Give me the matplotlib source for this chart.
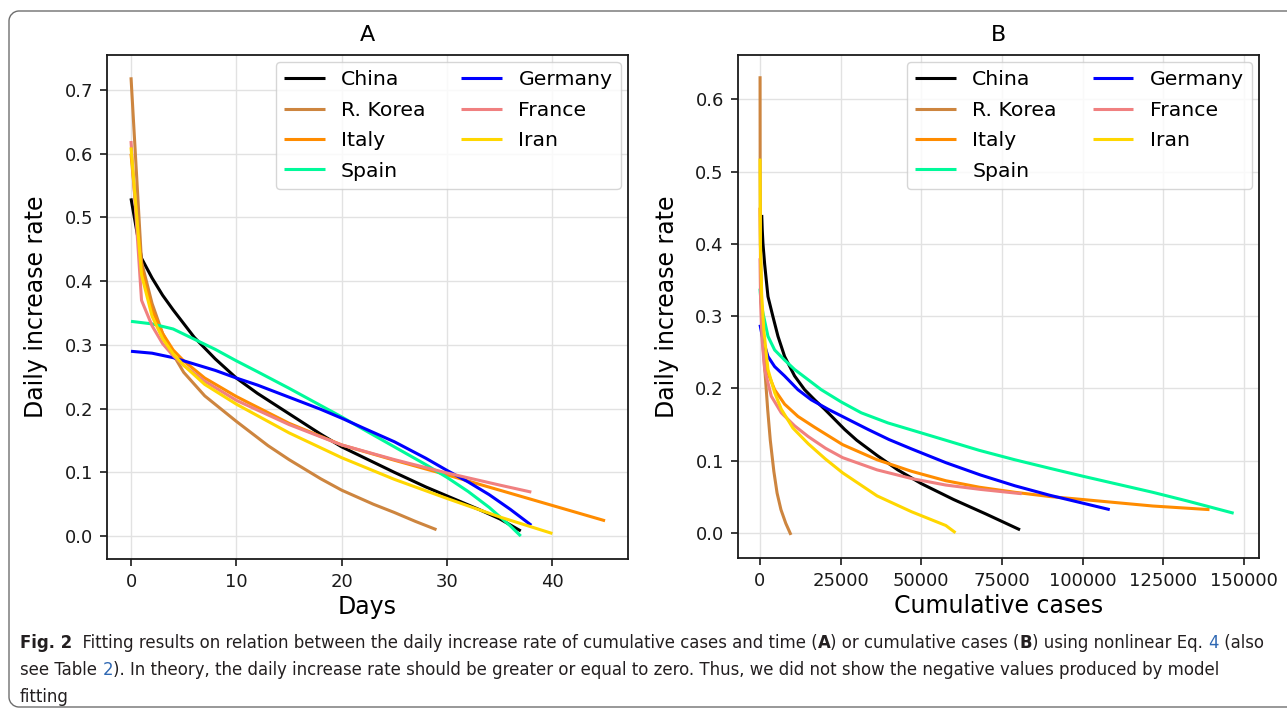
import matplotlib
matplotlib.use('Agg')
import matplotlib.pyplot as plt
import matplotlib.font_manager as fm
from matplotlib.font_manager import FontProperties
from matplotlib.patches import PathPatch
from matplotlib.path import Path
from matplotlib.transforms import IdentityTransform

# ---------------- data ----------------
countries = ['China', 'R. Korea', 'Italy', 'Spain', 'Germany', 'France', 'Iran']
colors = ['black', '#cd853f', 'darkorange', 'mediumspringgreen', 'blue', 'lightcoral', 'gold']

# Panel A: daily increase rate vs days
china_days = [0, 1, 2, 3, 4, 6, 8, 10, 12, 15, 18, 20, 22, 25, 28, 30, 33, 35, 37]
china_rate_a = [0.53, 0.436, 0.405, 0.378, 0.355, 0.312, 0.278, 0.248, 0.224, 0.192, 0.160,
                0.140, 0.124, 0.100, 0.077, 0.063, 0.042, 0.027, 0.008]
korea_days = [0, 1, 2, 3, 4, 5, 7, 10, 13, 15, 18, 20, 23, 25, 27, 29]
korea_rate_a = [0.72, 0.43, 0.365, 0.318, 0.285, 0.257, 0.220, 0.180, 0.142, 0.120, 0.090,
                0.072, 0.050, 0.037, 0.023, 0.010]
italy_days = [0, 1, 2, 3, 4, 5, 7, 10, 15, 20, 25, 30, 35, 40, 45]
italy_rate_a = [0.60, 0.42, 0.355, 0.318, 0.292, 0.275, 0.248, 0.219, 0.177, 0.143, 0.119,
                0.096, 0.072, 0.048, 0.024]
spain_days = [0, 2, 4, 6, 8, 10, 12, 15, 18, 20, 22, 25, 28, 30, 32, 34, 36, 37]
spain_rate_a = [0.337, 0.333, 0.325, 0.309, 0.293, 0.275, 0.258, 0.232, 0.205, 0.187, 0.168,
                0.140, 0.112, 0.092, 0.070, 0.045, 0.016, 0.0]
germany_days = [0, 2, 4, 6, 8, 10, 12, 15, 18, 20, 22, 25, 28, 30, 32, 34, 36, 38]
germany_rate_a = [0.290, 0.287, 0.280, 0.270, 0.260, 0.248, 0.237, 0.218, 0.199, 0.185, 0.170,
                  0.148, 0.122, 0.103, 0.085, 0.065, 0.042, 0.017]
france_days = [0, 1, 2, 3, 4, 5, 7, 10, 15, 20, 25, 30, 35, 38]
france_rate_a = [0.62, 0.37, 0.33, 0.302, 0.283, 0.268, 0.243, 0.213, 0.175, 0.143, 0.120,
                 0.099, 0.080, 0.069]
iran_days = [0, 1, 2, 3, 4, 5, 7, 10, 15, 20, 25, 30, 35, 40]
iran_rate_a = [0.61, 0.41, 0.345, 0.310, 0.286, 0.268, 0.238, 0.207, 0.162, 0.123, 0.089,
               0.059, 0.030, 0.004]

# Panel B: daily increase rate vs cumulative cases
china_cases = [550, 700, 930, 1450, 2480, 4030, 5580, 7640, 10740, 13840, 16940, 20040, 23140,
               26240, 30000, 36300, 42700, 50000, 60000, 70000, 80600]
china_rate_b = [0.44, 0.42, 0.40, 0.372, 0.327, 0.299, 0.272, 0.244, 0.217, 0.198, 0.184, 0.171,
                0.157, 0.143, 0.128, 0.107, 0.087, 0.068, 0.046, 0.026, 0.004]
korea_cases = [30, 60, 150, 400, 850, 1600, 2400, 3200, 4300, 5300, 6500, 8000, 9600]
korea_rate_b = [0.632, 0.50, 0.40, 0.32, 0.265, 0.22, 0.17, 0.128, 0.085, 0.055, 0.032,
                0.013, -0.003]
italy_cases = [20, 200, 600, 1200, 2480, 4550, 7640, 11780, 16940, 25600, 36300, 47000, 57600,
               68000, 79000, 90000, 100000, 121700, 139300]
italy_rate_b = [0.45, 0.36, 0.30, 0.26, 0.221, 0.198, 0.178, 0.161, 0.146, 0.122, 0.101, 0.085,
                0.072, 0.063, 0.056, 0.050, 0.046, 0.037, 0.032]
spain_cases = [5, 300, 930, 2480, 4550, 7640, 10740, 14880, 19000, 25200, 31400, 39670, 47900,
               57600, 68000, 79000, 90000, 100300, 111000, 121700, 132400, 146800]
spain_rate_b = [0.338, 0.32, 0.304, 0.272, 0.253, 0.239, 0.226, 0.212, 0.198, 0.181, 0.166,
                0.152, 0.141, 0.128, 0.114, 0.101, 0.089, 0.078, 0.067, 0.056, 0.044, 0.027]
germany_cases = [15, 930, 2480, 4550, 7640, 11780, 15900, 21100, 27300, 33500, 40000, 47000,
                 57600, 68300, 79000, 89700, 100000, 108400]
germany_rate_b = [0.288, 0.267, 0.244, 0.230, 0.217, 0.198, 0.184, 0.171, 0.157, 0.143, 0.129,
                  0.116, 0.097, 0.080, 0.065, 0.052, 0.041, 0.032]
france_cases = [10, 200, 600, 1450, 3510, 6610, 10740, 15000, 20300, 25600, 36300, 47000,
                57600, 68300, 81100]
france_rate_b = [0.38, 0.32, 0.27, 0.226, 0.189, 0.166, 0.148, 0.133, 0.117, 0.104, 0.087,
                 0.075, 0.066, 0.060, 0.054]
iran_cases = [20, 150, 530, 1200, 2480, 4550, 6610, 10200, 15000, 20300, 25600, 36300, 47000,
              57600, 60600]
iran_rate_b = [0.518, 0.40, 0.33, 0.28, 0.226, 0.194, 0.171, 0.145, 0.123, 0.102, 0.083, 0.051,
               0.029, 0.010, 0.0]

series_a = [(china_days, china_rate_a), (korea_days, korea_rate_a), (italy_days, italy_rate_a),
            (spain_days, spain_rate_a), (germany_days, germany_rate_a),
            (france_days, france_rate_a), (iran_days, iran_rate_a)]
series_b = [(china_cases, china_rate_b), (korea_cases, korea_rate_b), (italy_cases, italy_rate_b),
            (spain_cases, spain_rate_b), (germany_cases, germany_rate_b),
            (france_cases, france_rate_b), (iran_cases, iran_rate_b)]

xticks_a = [0, 10, 20, 30, 40]
xticks_b = [0, 25000, 50000, 75000, 100000, 125000, 150000]
yticks_a = [0.0, 0.1, 0.2, 0.3, 0.4, 0.5, 0.6, 0.7]
yticks_b = [0.0, 0.1, 0.2, 0.3, 0.4, 0.5, 0.6]

caption_lines = [
    [("Fig. 2", 'b', None), ("  Fitting results on relation between the daily increase rate of cumulative cases and time (", 'r', None),
     ("A", 'b', None), (") or cumulative cases (", 'r', None), ("B", 'b', None),
     (") using nonlinear Eq. ", 'r', None), ("4", 'r', 'link'), (" (also", 'r', None)],
    [("see Table ", 'r', None), ("2", 'r', 'link'),
     ("). In theory, the daily increase rate should be greater or equal to zero. Thus, we did not show the negative values produced by model", 'r', None)],
    [("fitting", 'r', None)],
]

# ---------------- figure ----------------
W, H = 1287, 713
fig = plt.figure(figsize=(W / 100, H / 100), dpi=100)
fig.patch.set_facecolor('white')

axA = fig.add_axes([107.3 / W, 1 - 559 / H, 520.4 / W, 504 / H])
axB = fig.add_axes([737.7 / W, 1 - 558.3 / H, 521.3 / W, 503.3 / H])


def style(ax):
    ax.grid(True, color='#e2e2e2', linewidth=1.0)
    ax.set_axisbelow(True)
    for s in ax.spines.values():
        s.set_linewidth(1.3)
        s.set_color('#1a1a1a')
    ax.tick_params(labelsize=13, length=5, width=1.2, pad=5, colors='#1a1a1a')


for ax, series in ((axA, series_a), (axB, series_b)):
    for name, col, (xs, ys) in zip(countries, colors, series):
        ax.plot(xs, ys, color=col, lw=2.2, label=name, solid_capstyle='butt',
                solid_joinstyle='round')
    style(ax)
    ax.legend(ncol=2, loc='upper right', fontsize=14.7, handlelength=2.0,
              columnspacing=1.75, handletextpad=0.8, labelspacing=0.56,
              borderaxespad=0.35)

axA.set_xlim(-2.25, 47.15)
axA.set_ylim(-0.036, 0.755)
axA.set_xticks(xticks_a)
axA.set_yticks(yticks_a)
axA.set_xlabel('Days', fontsize=17, labelpad=3)
axA.set_ylabel('Daily increase rate', fontsize=17, labelpad=12)
axA.set_title('A', fontsize=16, pad=10)

axB.set_xlim(-6900, 154650)
axB.set_ylim(-0.0354, 0.6614)
axB.set_xticks(xticks_b)
axB.set_yticks(yticks_b)
axB.set_xlabel('Cumulative cases', fontsize=17, labelpad=3)
axB.set_ylabel('Daily increase rate', fontsize=17, labelpad=12)
axB.set_title('B', fontsize=16, pad=10)

# outer frame: open on the right (it continues beyond the picture), rounded left corners
L, T, B_, R, r = 9.0, H - 11.0, H - 707.0, W + 50.0, 10.0
k = 0.5523 * r
verts = [(R, T), (L + r, T), (L + r - k, T), (L, T - r + k), (L, T - r),
         (L, B_ + r), (L, B_ + r - k), (L + r - k, B_), (L + r, B_), (R, B_)]
codes = [Path.MOVETO, Path.LINETO, Path.CURVE4, Path.CURVE4, Path.CURVE4,
         Path.LINETO, Path.CURVE4, Path.CURVE4, Path.CURVE4, Path.LINETO]
frame = PathPatch(Path(verts, codes), transform=IdentityTransform(), fill=False,
                  ec='#6e6e6e', lw=1.0, clip_on=False)
fig.add_artist(frame)

# ---------------- caption ----------------
def pick_fonts():
    prefs = ['Liberation Sans Narrow', 'DejaVu Sans', 'Noto Sans', 'Open Sans', 'Roboto',
             'Lato', 'Inter']
    for fam in prefs:
        reg = bold = None
        for f in fm.fontManager.ttflist:
            if f.name != fam or f.style != 'normal':
                continue
            st = str(f.stretch).lower()
            cond = ('condensed' in st or 'narrow' in st or fam == 'Liberation Sans Narrow'
                    or (isinstance(f.stretch, (int, float)) and f.stretch < 500))
            if not cond:
                continue
            w = f.weight
            if isinstance(w, str):
                w = fm.weight_dict.get(w, 400)
            if w == 400 and reg is None:
                reg = f.fname
            if w == 700 and bold is None:
                bold = f.fname
        if reg:
            return reg, (bold or reg)
    return None, None


reg_file, bold_file = pick_fonts()
if reg_file:
    preg = FontProperties(fname=reg_file)
    pbold = FontProperties(fname=bold_file)
else:
    preg = FontProperties(family='Liberation Sans')
    pbold = FontProperties(family='Liberation Sans', weight='bold')

renderer = fig.canvas.get_renderer()


def adv(s, prop):
    w1, _, _ = renderer.get_text_width_height_descent('|' + s + '|', prop, ismath=False)
    w0, _, _ = renderer.get_text_width_height_descent('||', prop, ismath=False)
    return w1 - w0


def line_width(runs, size):
    tot = 0
    for s, wt, c in runs:
        p = (pbold if wt == 'b' else preg).copy()
        p.set_size(size)
        tot += adv(s, p)
    return tot


base = 12.0
w_ref = line_width(caption_lines[0], base)
cap_size = base * (1262 - 20) / w_ref
cap_size = min(cap_size, 13.5)

text_col = '#231f20'
link_col = '#2f68b3'
baselines = [648, 675, 702]
for runs, yb in zip(caption_lines, baselines):
    x = 20.0
    for s, wt, c in runs:
        p = (pbold if wt == 'b' else preg).copy()
        p.set_size(cap_size)
        fig.text(x / W, 1 - yb / H, s, fontproperties=p,
                 color=(link_col if c == 'link' else text_col),
                 ha='left', va='baseline')
        x += adv(s, p)

fig.savefig('out.png', dpi=100)
